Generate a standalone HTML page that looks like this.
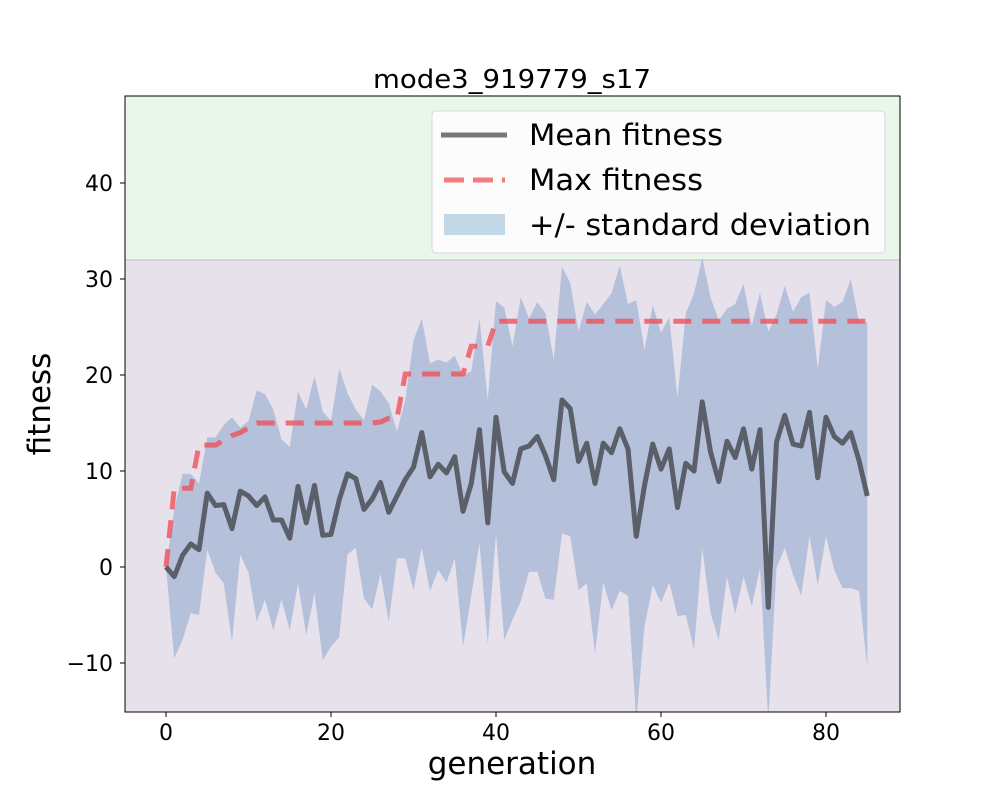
<!DOCTYPE html>
<html><head><meta charset="utf-8"><style>
html,body{margin:0;padding:0;background:#fff;}
svg text{font-family:"DejaVu Sans","Liberation Sans",sans-serif;fill:#000;}
</style></head><body>
<svg id="chart" width="1000" height="800" viewBox="0 0 1000 800" xmlns="http://www.w3.org/2000/svg">
<defs><clipPath id="plotclip"><rect x="125" y="96" width="775" height="616"/></clipPath></defs>
<rect x="125" y="96" width="775" height="616" fill="#e7e1ec"/>
<rect id="green-zone" x="125" y="96" width="775" height="164" fill="#e9f6ea"/>
<line id="zone-line" x1="125" x2="900" y1="260" y2="260" stroke="#c5d2c8" stroke-width="1.5"/>
<g id="marks" clip-path="url(#plotclip)"></g>
<rect x="125" y="96" width="775" height="616" fill="none" stroke="#000" stroke-width="1"/>
<g id="axes"></g>
<text x="512" y="88" font-size="26" text-anchor="middle" textLength="278" lengthAdjust="spacingAndGlyphs">mode3_919779_s17</text>
<text x="512" y="774" font-size="31" text-anchor="middle">generation</text>
<text x="50" y="404" font-size="31" text-anchor="middle" transform="rotate(-90 50 404)">fitness</text>
<g>
<rect x="432" y="111" width="453" height="142" rx="4" fill="#fbfcfb" stroke="#d8d8d8" stroke-width="1"/>
<line x1="441" x2="507" y1="135" y2="135" stroke="#777" stroke-width="5"/>
<text x="529" y="145" font-size="29" textLength="194" lengthAdjust="spacingAndGlyphs">Mean fitness</text>
<line x1="444" x2="505" y1="180" y2="180" stroke="#f47c7f" stroke-width="5" stroke-dasharray="20,9"/>
<text x="529" y="190" font-size="29" textLength="174" lengthAdjust="spacingAndGlyphs">Max fitness</text>
<rect x="444" y="214" width="61" height="21" fill="#c2d8e6"/>
<text x="529" y="235" font-size="29" textLength="342" lengthAdjust="spacingAndGlyphs">+/- standard deviation</text>
</g>
</svg>
<script>
const meanVals=[0,-1,1.2,2.4,1.8,7.7,6.4,6.5,4,7.9,7.4,6.4,7.3,4.9,4.9,3,8.4,4.6,8.5,3.3,3.4,7,9.7,9.2,6,7.1,8.8,5.7,7.4,9.1,10.4,14,9.4,10.7,9.8,11.5,5.8,8.7,14.3,4.6,15.6,9.9,8.7,12.3,12.6,13.6,11.6,9.1,17.4,16.5,11,12.9,8.7,12.9,11.9,14.4,12.3,3.2,8.5,12.8,10.2,12.3,6.2,10.8,10,17.2,12,8.9,13.1,11.4,14.4,10.2,14.3,-4.2,13,15.8,12.8,12.6,16.1,9.3,15.6,13.6,12.9,14,11.1,7.4];
const maxVals=[0,8.2,8.2,8.2,12.7,12.7,12.7,13.2,13.7,14,14.5,15,15,15,15,15,15,15,15,15,15,15,15,15,15,15,15.1,15.5,15.5,20.1,20.1,20.1,20.1,20.1,20.1,20.1,20.1,23,23,23,25.6,25.6,25.6,25.6,25.6,25.6,25.6,25.6,25.6,25.6,25.6,25.6,25.6,25.6,25.6,25.6,25.6,25.6,25.6,25.6,25.6,25.6,25.6,25.6,25.6,25.6,25.6,25.6,25.6,25.6,25.6,25.6,25.6,25.6,25.6,25.6,25.6,25.6,25.6,25.6,25.6,25.6,25.6,25.6,25.6,25.6];
const upperVals=[0,6,9.7,9.7,8.7,13.5,13.5,14.8,15.6,14.5,15.2,18.4,18,16.4,13.3,12.5,18.3,16.4,19.9,16.2,15.2,20.7,18.1,16.4,15.3,19,18.3,17.1,14.1,17.4,23.6,25.9,21.2,21.6,21.3,22,20,20.4,25.9,17.4,27.7,27,23,28.1,25.9,27.6,26.4,21.6,31.3,29.6,24.5,27.6,26.3,27.4,28.5,31.4,27.4,27.8,22.6,27.3,24.4,26,17.6,26.4,28.5,32.2,28.1,25.7,26.9,27.4,29.5,25.1,28.6,24.5,26.3,29.3,26.6,28.1,28.6,20.6,27.8,27.1,27.6,30,25.5,25.5];
const lowerVals=[0,-9.5,-7.6,-4.8,-5,1.8,-0.6,-1.7,-7.8,1.3,-0.6,-5.7,-3.4,-6.6,-3.4,-6.6,-1.7,-7.1,-2.7,-9.7,-8.3,-7.3,1.3,2,-3.3,-4.4,-0.7,-5.7,0.9,0.9,-2.4,2,-2.5,-0.3,-1.6,0.9,-8.3,-3,2.5,-8,3.5,-7.6,-5.5,-3.6,-0.5,-0.5,-3.3,-3.4,3.5,3.2,-2.4,-1.7,-9,-1.6,-4.5,-2.5,-3,-16,-6.2,-1.9,-3.7,-1.6,-5.1,-5,-8.6,2,-4.8,-7.6,-1,-4.9,-1,-4.1,-0.1,-16,-0.1,2,-0.8,-3,3.2,-1.9,3.2,-0.3,-2.2,-2.2,-2.5,-10.5];
const xTicks=[0,20,40,60,80];
const yTicks=[-10,0,10,20,30,40];

const NS="http://www.w3.org/2000/svg";
function xs(g){return 166+8.25*g;}
function ys(v){return 567-9.6*v;}
const marks=document.getElementById('marks');
const axes=document.getElementById('axes');

let d='';
upperVals.forEach((v,i)=>{d+=(i?'L':'M')+xs(i)+','+ys(v);});
for(let i=lowerVals.length-1;i>=0;i--){d+='L'+xs(i)+','+ys(lowerVals[i]);}
const band=document.createElementNS(NS,'path');
band.setAttribute('d',d+'Z');
band.setAttribute('fill','rgba(140,165,205,0.55)');


marks.appendChild(band);

const maxLine=document.createElementNS(NS,'polyline');
maxLine.setAttribute('points',maxVals.map((v,i)=>xs(i)+','+ys(v)).join(' '));
maxLine.setAttribute('fill','none');
maxLine.setAttribute('stroke','rgba(240,80,90,0.8)');
maxLine.setAttribute('stroke-width','5');
maxLine.setAttribute('stroke-dasharray','18,11');


marks.appendChild(maxLine);

const meanLine=document.createElementNS(NS,'polyline');
meanLine.setAttribute('points',meanVals.map((v,i)=>xs(i)+','+ys(v)).join(' '));
meanLine.setAttribute('fill','none');
meanLine.setAttribute('stroke','#5a5f69');
meanLine.setAttribute('stroke-width','5');
meanLine.setAttribute('stroke-linejoin','round');


marks.appendChild(meanLine);

xTicks.forEach(t=>{
  const l=document.createElementNS(NS,'line');
  l.setAttribute('x1',xs(t));l.setAttribute('x2',xs(t));l.setAttribute('y1',712);l.setAttribute('y2',717);
  l.setAttribute('stroke','#000');
  
  
  axes.appendChild(l);
  const tx=document.createElementNS(NS,'text');
  tx.setAttribute('x',xs(t));tx.setAttribute('y',740);tx.setAttribute('font-size','22');tx.setAttribute('text-anchor','middle');
  tx.textContent=t;
  
  
  axes.appendChild(tx);
});
yTicks.forEach(t=>{
  const l=document.createElementNS(NS,'line');
  l.setAttribute('x1',120);l.setAttribute('x2',125);l.setAttribute('y1',ys(t));l.setAttribute('y2',ys(t));
  l.setAttribute('stroke','#000');
  
  
  axes.appendChild(l);
  const tx=document.createElementNS(NS,'text');
  tx.setAttribute('x',113);tx.setAttribute('y',ys(t)+8);tx.setAttribute('font-size','22');tx.setAttribute('text-anchor','end');
  tx.textContent=t<0?'\u2212'+Math.abs(t):String(t);
  
  
  axes.appendChild(tx);
});
</script>
</body></html>
